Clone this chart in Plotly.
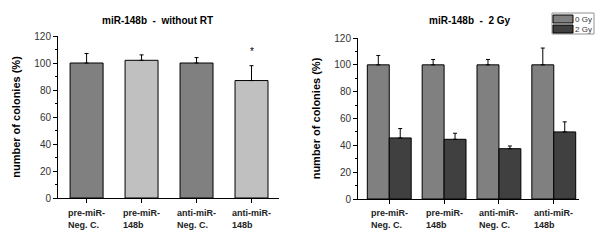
import plotly.graph_objects as go

categories = ["pre-miR-<br>Neg. C.", "pre-miR-<br>148b", "anti-miR-<br>Neg. C.", "anti-miR-<br>148b"]
left_values = [100, 102, 100, 87]
left_err = [7, 4, 4, 11]
left_colors = ["#808080", "#C0C0C0", "#808080", "#C0C0C0"]

series_names = ["0 Gy", "2 Gy"]
series_colors = ["#808080", "#404040"]
gy0_values = [100, 100, 100, 100]
gy0_err = [7, 4, 4, 12.5]
gy2_values = [45.5, 44.5, 37.5, 50]
gy2_err = [7, 4.5, 2, 7.5]

yticks = [0, 20, 40, 60, 80, 100, 120]

FONT = "Arial, Liberation Sans, sans-serif"
xs = list(range(len(categories)))

fig = go.Figure()

fig.add_trace(go.Bar(
    x=xs, y=left_values, width=0.6,
    marker=dict(color=left_colors, line=dict(color="#000000", width=1)),
    error_y=dict(type="data", symmetric=False, array=left_err,
                 arrayminus=[0] * 4, color="#000000", thickness=1, width=2),
    xaxis="x", yaxis="y", showlegend=False,
))

for name, vals, errs, col, grp in [
    (series_names[0], gy0_values, gy0_err, series_colors[0], "a"),
    (series_names[1], gy2_values, gy2_err, series_colors[1], "b"),
]:
    fig.add_trace(go.Bar(
        x=xs, y=vals, name=name,
        marker=dict(color=col, line=dict(color="#000000", width=1)),
        error_y=dict(type="data", symmetric=False, array=errs,
                     arrayminus=[0] * 4, color="#000000", thickness=1, width=2),
        xaxis="x2", yaxis="y2", offsetgroup=grp, showlegend=False,
    ))

xcommon = dict(showline=True, linecolor="#000000", linewidth=1, ticks="outside",
               ticklen=4, tickcolor="#000000", showticklabels=False, automargin=False,
               tickvals=xs, showgrid=False, zeroline=False, fixedrange=True)
ycommon = dict(showline=True, linecolor="#000000", linewidth=1, ticks="outside",
               ticklen=4, tickcolor="#000000", tickvals=yticks, range=[0, 120],
               showgrid=False, zeroline=False, automargin=False, fixedrange=True,
               tickfont=dict(family=FONT, size=10, color="#333333"),
               minor=dict(dtick=10, ticks="outside", ticklen=2, tickcolor="#000000"),
               title=dict(text="<b>number of colonies (%)</b>",
                          font=dict(family=FONT, size=11, color="#000000"), standoff=11))

fig.update_layout(
    width=600, height=246,
    margin=dict(l=0, r=0, t=0, b=0, pad=0),
    paper_bgcolor="#FFFFFF", plot_bgcolor="#FFFFFF",
    barmode="group", bargap=0.2, bargroupgap=0,
    xaxis=dict(domain=[58 / 600, 279 / 600], range=[-0.52, 3.5], anchor="y", **xcommon),
    yaxis=dict(domain=[1 - 198 / 246, 1 - 36 / 246], anchor="x", **ycommon),
    xaxis2=dict(domain=[358 / 600, 579 / 600], range=[-0.57, 3.46], anchor="y2", **xcommon),
    yaxis2=dict(domain=[1 - 199 / 246, 1 - 38 / 246], anchor="x2", **ycommon),
    showlegend=False,
    font=dict(family=FONT),
)

annotations = [
    dict(text="<b>miR-148b  -  without RT</b>", x=158 / 600, y=1 - 20 / 246,
         xref="paper", yref="paper", xanchor="center", yanchor="middle", showarrow=False,
         font=dict(family=FONT, size=10, color="#000000")),
    dict(text="<b>miR-148b  -  2 Gy</b>", x=470 / 600, y=1 - 20 / 246,
         xref="paper", yref="paper", xanchor="center", yanchor="middle", showarrow=False,
         font=dict(family=FONT, size=10, color="#000000")),
    dict(text="*", x=3, y=left_values[3] + left_err[3] + 5, xref="x", yref="y",
         yanchor="bottom", showarrow=False,
         font=dict(family=FONT, size=10, color="#000000")),
]
for xr in ["x", "x2"]:
    for i, c in enumerate(categories):
        annotations.append(dict(
            text="<b>" + c + "</b>", x=i, y=1 - 206 / 246, xref=xr, yref="paper",
            yanchor="top", xanchor="center", align="left", showarrow=False,
            font=dict(family=FONT, size=9, color="#222222")))

# compact legend key, like the original
shapes = [dict(type="rect", xref="paper", yref="paper", layer="below",
               x0=552 / 600, x1=594 / 600, y0=1 - 34 / 246, y1=1 - 13 / 246,
               line=dict(color="#909090", width=1), fillcolor="rgba(0,0,0,0)")]
for k, (name, col) in enumerate(zip(series_names, series_colors)):
    top = 15 + k * 10
    shapes.append(dict(type="rect", xref="paper", yref="paper", layer="below",
                       x0=553 / 600, x1=573 / 600, y0=1 - (top + 8) / 246, y1=1 - top / 246,
                       line=dict(color="#000000", width=1), fillcolor=col))
    annotations.append(dict(text=name, x=574 / 600, y=1 - (top + 4) / 246,
                            xref="paper", yref="paper", xanchor="left", yanchor="middle",
                            showarrow=False, borderpad=0,
                            font=dict(family=FONT, size=8, color="#333333")))
fig.update_layout(annotations=annotations, shapes=shapes)

fig.write_html(
    "out.html",
    config={"displayModeBar": False},
    post_script="document.body.style.margin='0';document.body.style.overflow='hidden';",
)
